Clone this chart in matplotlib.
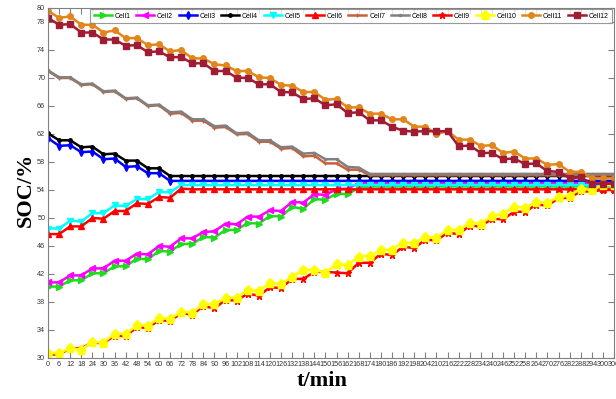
import numpy as np
import matplotlib
matplotlib.use("Agg")
import matplotlib.pyplot as plt

# time axis, minutes
t = list(range(0, 307, 6))

cell1 = [40.2, 40.2, 41.1, 41.1, 42.1, 42.1, 43.1, 43.1, 44.2, 44.1,
         45.3, 45.2, 46.3, 46.3, 47.3, 47.2, 48.3, 48.3, 49.3, 49.2,
         50.3, 50.2, 51.6, 51.3, 52.7, 52.6, 53.5, 53.4, 54.3] + [54.5] * 23
cell2 = [40.8, 40.8, 41.8, 41.8, 42.8, 42.8, 43.9, 43.9, 44.9, 44.8,
         46.0, 45.9, 47.1, 47.1, 48.0, 48.1, 49.2, 49.1, 50.2, 50.2,
         51.1, 51.0, 52.3, 52.2, 53.4, 53.3, 54.1, 54.2] + [55.0] * 24
cell3 = [61.4, 60.3, 60.4, 59.4, 59.5, 58.4, 58.5, 57.3, 57.4, 56.4,
         56.4] + [55.3] * 41
cell4 = [62.1, 61.1, 61.1, 60.1, 60.2, 59.1, 59.2, 58.2, 58.2, 57.1,
         57.1] + [56.0] * 41
cell5 = [48.5, 48.5, 49.6, 49.5, 50.7, 50.7, 51.8, 51.7, 52.7, 52.7,
         53.7, 53.7] + [54.7] * 40
cell6 = [47.7, 47.7, 48.8, 48.8, 50.0, 49.9, 51.0, 51.0, 52.1, 52.0,
         53.0, 52.9, 54.2] + [54.1] * 39
cell7 = [71.0, 70.0, 70.0, 69.0, 69.1, 68.0, 68.1, 67.0, 67.1, 66.0,
         66.1, 64.9, 65.0, 63.9, 63.9, 62.9, 63.0, 61.95, 62.0, 60.9,
         60.9, 59.9, 60.0, 58.8, 58.9, 57.8, 57.8, 56.9, 56.9] + [56.1] * 23
cell8 = [71.1, 70.1, 70.1, 69.1, 69.2, 68.1, 68.2, 67.1, 67.2, 66.1,
         66.2, 65.1, 65.2, 64.1, 64.1, 63.1, 63.2, 62.1, 62.2, 61.1,
         61.1, 60.1, 60.2, 59.2, 59.3, 58.4, 58.4, 57.3, 57.2] + [56.3] * 23
cell9 = [30.5, 30.5, 31.4, 31.4, 32.2, 32.1, 33.2, 33.1, 34.4, 34.3,
         35.4, 35.3, 36.4, 36.2, 37.4, 37.1, 38.3, 38.2, 39.2, 38.9,
         40.1, 40.0, 41.3, 41.3, 42.3, 42.3, 42.2, 42.1, 43.6, 43.6,
         44.9, 44.7, 45.9, 45.7, 46.9, 46.8, 47.9, 47.7, 48.9, 48.8,
         49.9, 49.8, 50.9, 50.9, 51.9, 51.8, 52.8, 52.9, 53.8, 53.8,
         54.0, 54.0]
cell10 = [30.7, 30.7, 31.4, 31.2, 32.3, 32.2, 33.5, 33.4, 34.7, 34.6,
          35.7, 35.6, 36.6, 36.5, 37.7, 37.7, 38.6, 38.6, 39.7, 39.6,
          40.7, 40.6, 41.6, 42.6, 42.6, 42.2, 43.4, 43.3, 44.5, 44.6,
          45.4, 45.5, 46.5, 46.4, 47.3, 47.2, 48.3, 48.3, 49.3, 49.2,
          50.3, 50.6, 51.6, 51.5, 52.3, 52.2, 53.0, 53.2, 54.2, 54.0,
          54.7, 54.7]
cell11 = [79.6, 78.6, 78.8, 77.6, 77.6, 76.5, 76.8, 75.7, 75.7, 74.7,
          74.8, 73.8, 74.0, 72.8, 72.8, 71.95, 71.8, 71.0, 71.0, 70.1,
          70.0, 69.0, 68.9, 68.0, 68.0, 66.9, 67.0, 65.8, 65.8, 64.9,
          64.9, 64.1, 64.1, 63.05, 63.05, 62.0, 62.4, 61.2, 61.2, 60.3,
          60.4, 59.3, 59.5, 58.5, 58.5, 57.6, 57.7, 56.6, 56.6, 55.7,
          55.7, 55.7]
cell12 = [78.6, 77.6, 77.7, 76.5, 76.5, 75.5, 75.5, 74.6, 74.7, 73.7,
          73.8, 72.95, 73.0, 72.1, 72.1, 71.0, 71.0, 70.05, 70.0, 69.1,
          69.1, 68.0, 67.95, 67.0, 67.1, 66.1, 66.25, 65.0, 65.1, 63.95,
          63.95, 63.05, 62.45, 62.35, 62.4, 62.4, 62.4, 60.25, 60.35, 59.3,
          59.3, 58.4, 58.5, 57.7, 57.8, 56.7, 56.6, 55.7, 55.8, 54.9,
          54.9, 54.9]

series = [cell1, cell2, cell3, cell4, cell5, cell6,
          cell7, cell8, cell9, cell10, cell11, cell12]
names = [f"Cell{i}" for i in range(1, 13)]

# matlab-ish styles: (colour, marker, marker size)
STYLES = [
    ("#1fdc1f", ">", 4.5),
    ("#ff00ff", "<", 4.5),
    ("#0000ff", "d", 4.0),
    ("#000000", ".", 5.0),
    ("#00ffff", "v", 4.5),
    ("#ff0000", "^", 4.5),
    ("#c8603a", "+", 3.5),
    ("#808080", ".", 3.0),
    ("#ff0000", "*", 5.0),
    ("#ffff00", "p", 6.5),
    ("#e0861a", "o", 4.0),
    ("#a01c34", "s", 4.5),
]

plt.rcParams["font.family"] = ["Liberation Sans", "DejaVu Sans"]

fig = plt.figure(figsize=(6.16, 3.99), dpi=100)
ax = fig.add_axes([48 / 616, 1 - 358 / 399, 566 / 616, 350 / 399])

for y, name, (col, mk, ms) in zip(series, names, STYLES):
    ax.plot(t, y, color=col, marker=mk, markersize=ms, linewidth=1.8,
            markerfacecolor=col, markeredgecolor=col, label=name)

ax.set_xlim(0, 306)
ax.set_ylim(30, 80)
ax.set_xticks(t)
ax.set_yticks(list(range(30, 79, 4)) + [80])
ax.tick_params(axis="both", which="both", direction="in", top=True, right=True,
               length=4, width=0.8, color="#808080", labelsize=5.2,
               labelcolor="#333333", pad=2)
for sp in ax.spines.values():
    sp.set_color("#808080")
    sp.set_linewidth(0.8)

ax.set_ylabel("SOC/%", fontsize=16, fontweight="bold",
              family=["Liberation Serif", "DejaVu Serif"], va="center")
ax.yaxis.set_label_coords(-0.04, 0.48)
ax.set_xlabel("t/min", fontsize=16, fontweight="bold",
              family=["Liberation Serif", "DejaVu Serif"], va="center")
ax.xaxis.set_label_coords(0.484, -0.066)

leg = ax.legend(loc="upper right", bbox_to_anchor=(0.9965, 0.997), ncol=12,
                fontsize=5.0, frameon=True, fancybox=False, handlelength=2.6,
                handletextpad=0.4, columnspacing=0.8, borderpad=0.5,
                borderaxespad=0)
leg.get_frame().set_edgecolor("#808080")
leg.get_frame().set_linewidth(0.8)

fig.savefig("out.png", dpi=100)
